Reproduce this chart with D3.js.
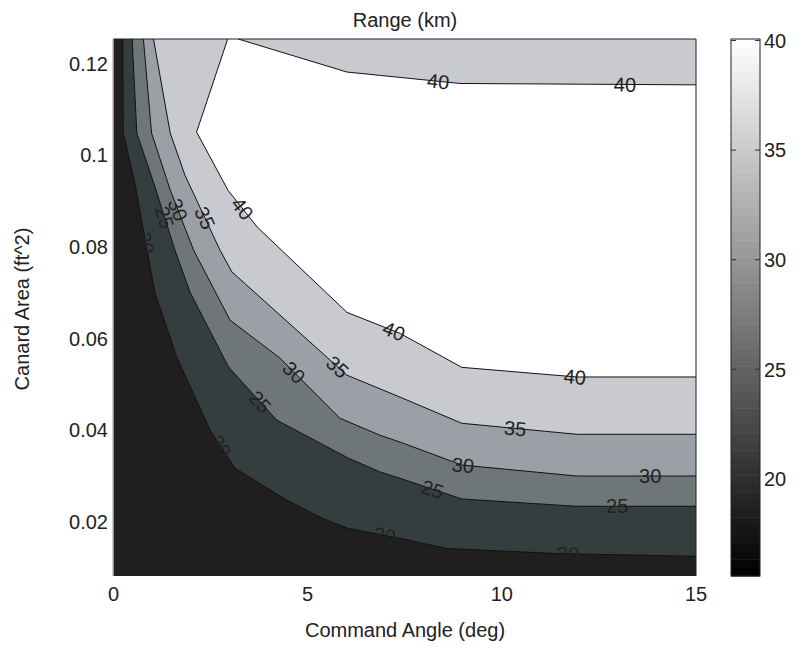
<!DOCTYPE html>
<html>
<head>
<meta charset="utf-8">
<script src="https://cdn.jsdelivr.net/npm/d3@7"></script>
<style>
  body { margin: 0; background: #fff; }
  text { font-family: "Liberation Sans", Arial, Helvetica, sans-serif; fill: #222; }
</style>
</head>
<body>
<div id="chart"></div>
<script>
// contour levels (km)
var levels = [20, 25, 30, 35, 40];
var fillColors = ["#201f1d", "#353e3f", "#6f7677", "#9aa0a6", "#c8cad0", "#ffffff"];

// contour lines, [command angle (deg), canard area (ft^2)]
var line20 = [[0.24,0.1253],[0.25,0.1048],[0.55,0.0939],[0.86,0.0793],[1.07,0.0699],[1.63,0.0559],[2.49,0.0400],[3.13,0.0317],[4.47,0.0247],[5.37,0.0208],[6.04,0.0186],[7.38,0.0164],[8.59,0.0142],[11.42,0.0131],[15,0.0125]];
var line25 = [[0.48,0.1253],[0.60,0.1048],[1.07,0.0930],[1.58,0.0793],[1.97,0.0701],[2.96,0.0538],[4.20,0.0422],[6.05,0.0339],[6.86,0.0309],[7.38,0.0295],[8.97,0.0250],[11.93,0.0234],[15,0.0234]];
var line30 = [[0.77,0.1253],[0.98,0.1048],[1.46,0.0924],[2.06,0.0793],[3.00,0.0640],[4.29,0.0557],[5.83,0.0426],[6.86,0.0389],[7.38,0.0374],[8.97,0.0324],[11.93,0.0300],[15,0.0300]];
var line35 = [[1.03,0.1253],[1.46,0.1048],[1.84,0.0956],[2.74,0.0793],[3.05,0.0745],[6.01,0.0520],[7.38,0.0472],[8.97,0.0415],[11.93,0.0391],[15,0.0391]];
var line40Lower = [[2.94,0.1253],[2.14,0.1050],[2.95,0.0923],[3.70,0.0843],[6.01,0.0657],[7.38,0.0611],[8.97,0.0537],[11.93,0.0516],[15,0.0516]];
var line40Upper = [[3.21,0.1253],[6.01,0.1181],[8.92,0.1156],[15,0.1153]];

// inline contour labels: [level, x, y]
var contourLabels = [
  [40, 8.36, 0.1159], [40, 13.17, 0.1153], [40, 3.21, 0.0876], [40, 7.17, 0.0605], [40, 11.88, 0.0514],
  [35, 2.23, 0.0858], [35, 5.76, 0.0537], [35, 10.34, 0.0400],
  [30, 1.64, 0.0880], [30, 4.62, 0.0524], [30, 9.00, 0.0326], [30, 13.82, 0.0298],
  [25, 1.28, 0.0863], [25, 3.77, 0.0461], [25, 8.20, 0.0267], [25, 12.97, 0.0231],
  [20, 0.81, 0.0808], [20, 2.72, 0.0363], [20, 6.99, 0.0175], [20, 11.70, 0.0131]
];

var xTicks = [0, 5, 10, 15];
var yTicks = [0.02, 0.04, 0.06, 0.08, 0.1, 0.12];
var cbTicks = [20, 25, 30, 35, 40];
var cbDomain = [15.57, 40.07];

var fontSize = "20px";

var svg = d3.select("#chart").append("svg")
    .attr("width", 811)
    .attr("height", 648);

var x = d3.scaleLinear().domain([0, 15]).range([113.5, 696]);
var y = d3.scaleLinear().domain([0.0082, 0.1253]).range([576, 39]);

var line = d3.line().x(function(d) { return x(d[0]); }).y(function(d) { return y(d[1]); });

var xMax = 15, yMax = y.domain()[1];

// base fill (below 20)
svg.append("rect")
    .attr("x", x(0)).attr("y", y(yMax))
    .attr("width", x(15) - x(0)).attr("height", y(y.domain()[0]) - y(yMax))
    .style("fill", fillColors[0]);

// bands above each level
var lines = {20: line20, 25: line25, 30: line30, 35: line35};
[20, 25, 30, 35].forEach(function(lv, i) {
  var poly = lines[lv].concat([[xMax, yMax]]);
  svg.append("path")
      .attr("d", line(poly) + "Z")
      .style("fill", fillColors[i + 1]);
});
var poly40 = line40Lower.concat(line40Upper.slice().reverse());
svg.append("path")
    .attr("d", line(poly40) + "Z")
    .style("fill", fillColors[5]);

// contour lines
[line20, line25, line30, line35, line40Lower, line40Upper].forEach(function(pts) {
  svg.append("path")
      .attr("d", line(pts))
      .style("fill", "none")
      .style("stroke", "#111")
      .style("stroke-width", 1);
});

// labels follow the nearest segment of their line
var lineByLevel = {20: [line20], 25: [line25], 30: [line30], 35: [line35], 40: [line40Lower, line40Upper]};
contourLabels.forEach(function(l) {
  var px = x(l[1]), py = y(l[2]);
  var best = null;
  lineByLevel[l[0]].forEach(function(pts) {
    for (var k = 0; k < pts.length - 1; k++) {
      var ax = x(pts[k][0]), ay = y(pts[k][1]), bx = x(pts[k+1][0]), by = y(pts[k+1][1]);
      var dx = bx - ax, dy = by - ay;
      var t = Math.max(0, Math.min(1, ((px - ax) * dx + (py - ay) * dy) / (dx * dx + dy * dy)));
      var qx = ax + t * dx, qy = ay + t * dy;
      var dist = Math.hypot(px - qx, py - qy);
      if (!best || dist < best.dist) best = {dist: dist, x: qx, y: qy, ang: Math.atan2(dy, dx) * 180 / Math.PI};
    }
  });
  var ang = best.ang;
  if (ang > 90) ang -= 180;
  if (ang < -90) ang += 180;
  svg.append("text")
      .attr("transform", "translate(" + best.x + "," + best.y + ") rotate(" + ang + ")")
      .attr("text-anchor", "middle")
      .attr("dy", "0.36em")
      .style("font-size", fontSize)
      .text(l[0]);
});

// axes box
svg.append("path")
    .attr("d", "M" + x(0) + "," + y(yMax) + "H" + x(15) + "V" + y(y.domain()[0]))
    .style("fill", "none").style("stroke", "#222").style("stroke-width", 1);
svg.append("line")
    .attr("x1", x(0) - 0.5).attr("x2", x(0) - 0.5)
    .attr("y1", y(yMax)).attr("y2", y(y.domain()[0]))
    .style("stroke", "#999");

// tick labels
svg.selectAll(".xt").data(xTicks).enter().append("text")
    .attr("x", function(d) { return x(d); })
    .attr("y", 601)
    .attr("text-anchor", "middle")
    .style("font-size", fontSize)
    .text(function(d) { return d; });

svg.selectAll(".yt").data(yTicks).enter().append("text")
    .attr("x", 108)
    .attr("y", function(d) { return y(d); })
    .attr("dy", "0.36em")
    .attr("text-anchor", "end")
    .style("font-size", fontSize)
    .text(function(d) { return d3.format("")(d); });

// titles
svg.append("text").attr("x", 405).attr("y", 27).attr("text-anchor", "middle")
    .style("font-size", fontSize).text("Range (km)");
svg.append("text").attr("x", 405).attr("y", 637).attr("text-anchor", "middle")
    .style("font-size", fontSize).text("Command Angle (deg)");
svg.append("text").attr("transform", "translate(29,309) rotate(-90)").attr("text-anchor", "middle")
    .style("font-size", fontSize).text("Canard Area (ft^2)");

// colorbar
var cbX = 731, cbW = 29;
var cb = d3.scaleLinear().domain(cbDomain).range([576, 39]);
var gray = d3.scaleLinear().domain(cbDomain).range(["#000", "#fff"]);
var nSteps = 64;
var stepVals = d3.range(nSteps).map(function(i) { return cbDomain[0] + (cbDomain[1] - cbDomain[0]) * i / nSteps; });
var stepH = (cbDomain[1] - cbDomain[0]) / nSteps;
svg.selectAll(".cbs").data(stepVals).enter().append("rect")
    .attr("x", cbX)
    .attr("y", function(d) { return cb(d + stepH); })
    .attr("width", cbW)
    .attr("height", function(d) { return cb(d) - cb(d + stepH) + 0.5; })
    .style("fill", function(d) { return gray(d + stepH / 2); });
svg.append("rect")
    .attr("x", cbX).attr("y", 39).attr("width", cbW).attr("height", 537)
    .style("fill", "none").style("stroke", "#222");
cbTicks.forEach(function(t) {
  svg.append("line").attr("x1", cbX).attr("x2", cbX + 5).attr("y1", cb(t)).attr("y2", cb(t)).style("stroke", "#333");
  svg.append("line").attr("x1", cbX + cbW - 5).attr("x2", cbX + cbW).attr("y1", cb(t)).attr("y2", cb(t)).style("stroke", "#333");
  svg.append("text").attr("x", cbX + cbW + 4).attr("y", cb(t)).attr("dy", "0.36em")
      .style("font-size", fontSize).text(t);
});
</script>
</body>
</html>
